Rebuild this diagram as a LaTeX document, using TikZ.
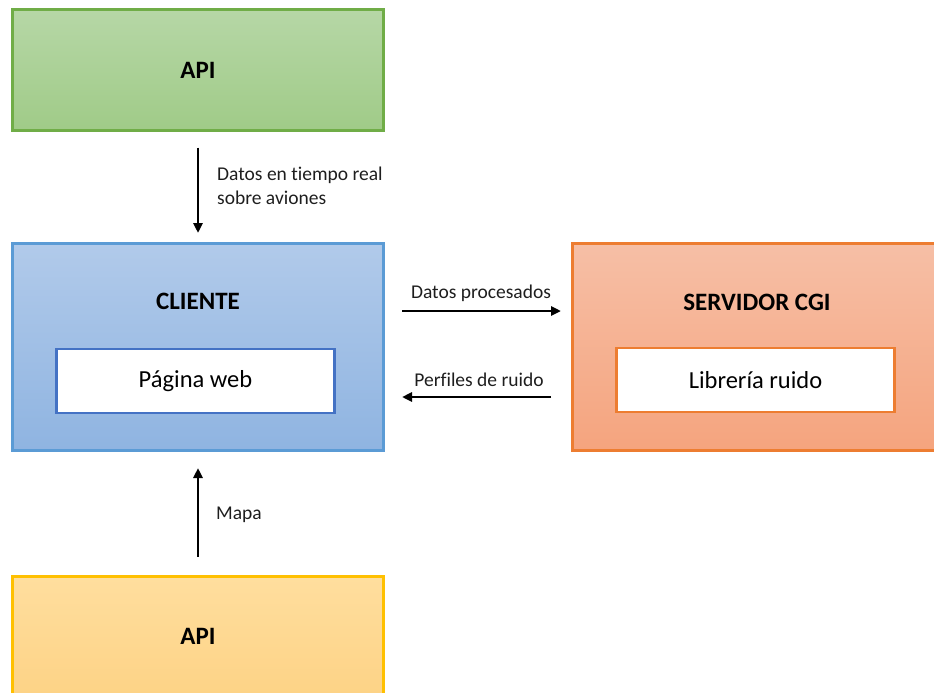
\documentclass[tikz,border=0pt]{standalone}
\usepackage{fontspec}
\setmainfont[Ligatures=NoCommon]{Carlito}
\usetikzlibrary{arrows.meta}
\definecolor{gborder}{HTML}{70AD47}
\definecolor{gtop}{HTML}{B6D7A6}
\definecolor{gbot}{HTML}{A0CB88}
\definecolor{bborder}{HTML}{5B9BD5}
\definecolor{btop}{HTML}{B1CAEA}
\definecolor{bbot}{HTML}{8FB4E1}
\definecolor{binner}{HTML}{4472C4}
\definecolor{oborder}{HTML}{ED7D31}
\definecolor{otop}{HTML}{F6BFA6}
\definecolor{obot}{HTML}{F5A47E}
\definecolor{yborder}{HTML}{FFC000}
\definecolor{ytop}{HTML}{FFDE9E}
\definecolor{ybot}{HTML}{FDD386}
\definecolor{lblgray}{HTML}{1E1E1E}
\begin{document}
\begin{tikzpicture}[x=1pt,y=-1pt,
  box/.style={draw, rectangle, line width=3pt, minimum width=371pt, inner sep=0pt},
  innerbox/.style={draw, rectangle, line width=2.7pt, fill=white, minimum width=278pt,
    minimum height=64pt, inner sep=0pt, font=\fontsize{24.5}{29}\selectfont},
  titletext/.style={font=\bfseries\fontsize{25}{29}\selectfont, inner sep=0pt},
  lbl/.style={font=\fontsize{19.5}{24}\selectfont, text=lblgray, inner sep=0pt},
  arr/.style={line width=2.5pt, -{Triangle[length=10pt,width=9pt]}}]
\useasboundingbox (0,0) rectangle (934,693);
\clip (0,0) rectangle (934,693);
% boxes
\node[box, minimum height=120pt, draw=gborder, top color=gtop, bottom color=gbot,
      font=\bfseries\fontsize{25}{29}\selectfont] (api1) at (198,70) {API};
\node[box, minimum height=207pt, draw=bborder, top color=btop, bottom color=bbot] (cli) at (198,347) {};
\node[titletext, anchor=base] (clit) at (198,309) {CLIENTE};
\node[innerbox, draw=binner] (web) at (195.5,381) {Página web};
\node[box, minimum height=207pt, draw=oborder, top color=otop, bottom color=obot] (srv) at (758,347) {};
\node[titletext, anchor=base] (srvt) at (757,310) {SERVIDOR CGI};
\node[innerbox, draw=oborder] (lib) at (755.5,380) {Librería ruido};
\node[box, minimum height=120pt, draw=yborder, top color=ytop, bottom color=ybot,
      font=\bfseries\fontsize{25}{29}\selectfont] (api2) at (198,636) {API};
% connectors
\draw[arr, shorten <=16pt, shorten >=9pt] (api1.south) -- (cli.north);
\draw[arr, shorten <=17pt, shorten >=10pt] ([yshift=36pt]cli.east) -- ([yshift=36pt]srv.west);
\draw[arr, shorten <=20pt, shorten >=17pt] ([yshift=-50pt]srv.west) -- ([yshift=-50pt]cli.east);
\draw[arr, shorten <=18pt, shorten >=16pt] (api2.north) -- (cli.south);
% labels
\node[lbl, anchor=west, align=left] (l1) at (217,186) {Datos en tiempo real\\sobre aviones};
\node[lbl, anchor=base] (l2) at (481,298) {Datos procesados};
\node[lbl, anchor=base] (l3) at (479,386) {Perfiles de ruido};
\node[lbl, anchor=base west] (l4) at (216,519) {Mapa};
\end{tikzpicture}
\end{document}
